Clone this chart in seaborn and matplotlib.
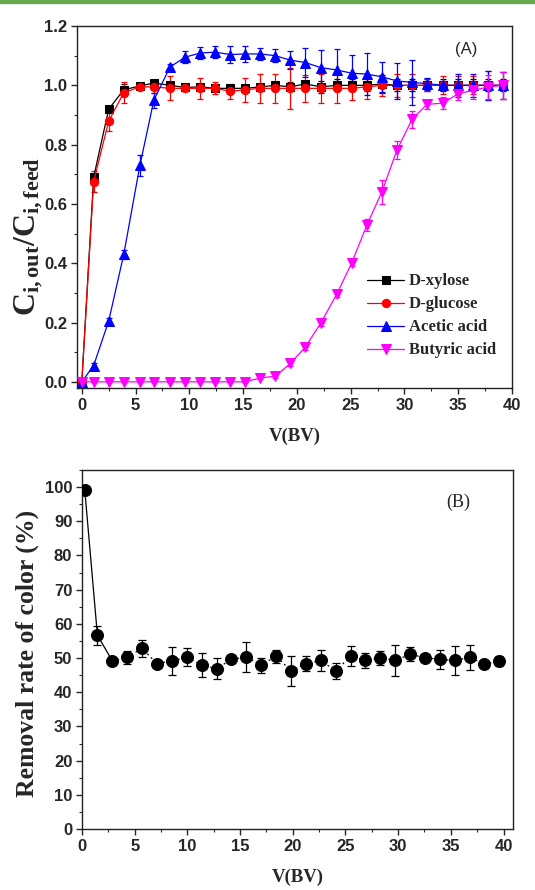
import matplotlib
matplotlib.use('Agg')
import matplotlib.pyplot as plt
import seaborn as sns
import pandas as pd
import numpy as np
from matplotlib.ticker import MultipleLocator

sns.set_style('ticks')
plt.rcParams['font.family'] = ['Liberation Sans', 'DejaVu Sans']
plt.rcParams['mathtext.fontset'] = 'custom'
plt.rcParams['mathtext.rm'] = 'Liberation Serif'
plt.rcParams['mathtext.bf'] = 'Liberation Serif:bold'
plt.rcParams['mathtext.it'] = 'Liberation Serif:italic'

# (A) breakthrough curves
bv = [0, 1.1, 2.5, 3.9, 5.4, 6.7, 8.2, 9.6, 11.0, 12.4, 13.8, 15.2, 16.6, 18.0, 19.4,
      20.8, 22.2, 23.7, 25.1, 26.5, 27.9, 29.3, 30.7, 32.1, 33.6, 35.0, 36.4, 37.8, 39.2]

xylose = [0, 0.69, 0.92, 0.985, 0.998, 1.008, 1.0, 0.993, 0.995, 0.99, 0.99, 0.99, 0.995, 1.0, 0.995,
          1.005, 0.995, 1.0, 1.0, 1.0, 1.005, 1.0, 1.0, 1.0, 1.0, 1.0, 1.0, 1.0, 1.0]
xylose_err = [0, 0.01, 0.01, 0.02, 0.01, 0.01, 0.01, 0.01, 0.01, 0.01, 0.01, 0.01, 0.01, 0.01, 0.015,
              0.01, 0.02, 0.02, 0.02, 0.02, 0.03, 0.02, 0.02, 0.02, 0.02, 0.02, 0.02, 0.02, 0.02]

glucose = [0, 0.675, 0.88, 0.975, 0.995, 0.995, 0.99, 0.99, 0.99, 0.99, 0.98, 0.985, 0.99, 0.99, 0.99,
           0.99, 0.99, 0.99, 0.99, 0.995, 1.0, 1.0, 1.0, 1.0, 1.0, 1.0, 1.0, 1.0, 1.0]
glucose_err = [0, 0.035, 0.035, 0.035, 0.01, 0.02, 0.04, 0.01, 0.035, 0.02, 0.025, 0.04, 0.05, 0.05, 0.07,
               0.045, 0.05, 0.05, 0.04, 0.04, 0.035, 0.04, 0.04, 0.02, 0.03, 0.03, 0.03, 0.05, 0.045]

acetic = [0, 0.055, 0.205, 0.43, 0.73, 0.95, 1.062, 1.095, 1.109, 1.112, 1.104, 1.106, 1.106, 1.1, 1.085,
          1.077, 1.06, 1.052, 1.041, 1.038, 1.029, 1.015, 1.01, 1.006, 1.0, 1.0, 1.0, 1.0, 1.0]
acetic_err = [0, 0.01, 0.01, 0.015, 0.035, 0.025, 0.01, 0.02, 0.02, 0.02, 0.028, 0.028, 0.02, 0.022, 0.03,
              0.05, 0.06, 0.07, 0.06, 0.07, 0.05, 0.06, 0.075, 0.02, 0.015, 0.04, 0.04, 0.05, 0.045]

butyric = [0, 0, 0, 0, 0, 0, 0, 0, 0, 0, 0, 0, 0.013, 0.019, 0.062,
           0.118, 0.197, 0.295, 0.401, 0.528, 0.64, 0.781, 0.885, 0.936, 0.94, 0.972, 0.983, 0.995, 1.0]
butyric_err = [0, 0, 0, 0, 0, 0, 0, 0, 0, 0, 0, 0, 0.005, 0.005, 0.008,
               0.01, 0.01, 0.01, 0.01, 0.02, 0.04, 0.03, 0.03, 0.015, 0.02, 0.02, 0.03, 0.04, 0.045]

# (B) colour removal
bv_color = [0.26, 1.46, 2.89, 4.28, 5.71, 7.1, 8.53, 9.95, 11.35, 12.78, 14.17, 15.59, 17.0, 18.41, 19.84,
            21.24, 22.66, 24.09, 25.48, 26.9, 28.3, 29.73, 31.15, 32.55, 33.97, 35.4, 36.79, 38.18, 39.6]
removal = [99.2, 56.7, 49.1, 50.3, 52.8, 48.4, 49.1, 50.3, 47.9, 46.9, 49.6, 50.3, 47.9, 50.6, 46.2,
           48.4, 49.3, 46.2, 50.6, 49.3, 50.1, 49.3, 51.1, 50.1, 49.6, 49.3, 50.2, 48.2, 49.2]
removal_err = [0.5, 2.8, 0.5, 1.9, 2.5, 0.5, 4.1, 2.7, 3.5, 3.0, 0.5, 4.4, 2.2, 1.9, 4.4,
               2.3, 3.1, 2.4, 2.8, 2.2, 2.0, 4.4, 2.0, 0.5, 2.8, 4.2, 3.7, 1.0, 1.5]

series = [
    ('D-xylose', xylose, xylose_err, 'black', 's', 5.3),
    ('D-glucose', glucose, glucose_err, 'red', 'o', 6.0),
    ('Acetic acid', acetic, acetic_err, 'blue', '^', 6.8),
    ('Butyric acid', butyric, butyric_err, 'magenta', 'v', 6.8),
]

serif_bold = {'family': 'Liberation Serif', 'weight': 'bold'}

fig = plt.figure(figsize=(5.35, 8.9), dpi=100)
fig.patches.append(plt.Rectangle((0, 1 - 2.5 / 890), 1, 2.5 / 890, transform=fig.transFigure,
                                 color='#6aa84f', zorder=10))

ax1 = fig.add_axes([0.1439, 0.564, 0.813, 0.4067])
ax2 = fig.add_axes([0.1533, 0.0685, 0.8056, 0.4034])

df = pd.DataFrame({'bv': bv})
for name, vals, errs, color, marker, ms in series:
    df[name] = vals
    ax1.errorbar(bv, vals, yerr=errs, fmt='none', ecolor=color, elinewidth=0.9,
                 capsize=2.5, capthick=0.9, zorder=2)
    sns.lineplot(data=df, x='bv', y=name, ax=ax1, color=color, marker=marker,
                 markersize=ms, markeredgecolor=color, linewidth=0.9, label=name, zorder=3)

ax1.set_xlim(-0.45, 40)
ax1.set_ylim(-0.021, 1.2)
ax1.xaxis.set_major_locator(MultipleLocator(5))
ax1.xaxis.set_minor_locator(MultipleLocator(2.5))
ax1.yaxis.set_major_locator(MultipleLocator(0.2))
ax1.yaxis.set_minor_locator(MultipleLocator(0.1))
ax1.yaxis.set_major_formatter(plt.FormatStrFormatter('%.1f'))
ax1.set_xlabel('V(BV)', fontdict=serif_bold, fontsize=13.5, labelpad=11)
ax1.set_ylabel(r'$\mathbf{C_{i,out}/C_{i,feed}}$', fontsize=23, va='center')
ax1.yaxis.set_label_coords(-0.112, 0.42)
ax1.text(0.895, 0.935, '(A)', transform=ax1.transAxes, fontsize=12, ha='center', va='center')
leg = ax1.legend(loc='upper left', bbox_to_anchor=(0.652, 0.335), frameon=False,
                 prop={'family': 'Liberation Serif', 'weight': 'bold', 'size': 12},
                 handlelength=2.2, handletextpad=0.3, labelspacing=0.42, borderaxespad=0)

# (B)
dfc = pd.DataFrame({'bv': bv_color, 'removal': removal})
ax2.errorbar(bv_color, removal, yerr=removal_err, fmt='none', ecolor='black', elinewidth=0.9,
             capsize=2.8, capthick=0.9, zorder=2)
sns.lineplot(data=dfc.iloc[:3], x='bv', y='removal', ax=ax2, color='black', linewidth=0.9, zorder=2)
sns.lineplot(data=dfc.iloc[2:], x='bv', y='removal', ax=ax2, color='black', linewidth=0.9,
             linestyle=(0, (1.5, 2.5)), zorder=2)
sns.scatterplot(data=dfc, x='bv', y='removal', ax=ax2, color='black', s=75, marker='o',
                edgecolor='black', zorder=3)

ax2.set_xlim(0, 40.9)
ax2.set_ylim(0, 105)
ax2.xaxis.set_major_locator(MultipleLocator(5))
ax2.xaxis.set_minor_locator(MultipleLocator(2.5))
ax2.yaxis.set_major_locator(MultipleLocator(10))
ax2.yaxis.set_minor_locator(MultipleLocator(5))
ax2.set_xlabel('V(BV)', fontdict=serif_bold, fontsize=13.5, labelpad=11)
ax2.set_ylabel('Removal rate of color (%)', fontdict=serif_bold, fontsize=18.5, va='center')
ax2.yaxis.set_label_coords(-0.126, 0.49)
ax2.text(0.872, 0.911, '(B)', transform=ax2.transAxes, fontsize=13, family='Liberation Serif',
         ha='center', va='center')

for ax in (ax1, ax2):
    for s in ax.spines.values():
        s.set_visible(True)
        s.set_linewidth(1.0)
        s.set_color('#222222')
    ax.tick_params(which='major', direction='out', length=4, width=1, labelsize=12,
                   top=False, right=False, pad=3)
    ax.tick_params(which='minor', direction='out', length=2.5, width=0.8, top=False, right=False)
    for lab in ax.get_xticklabels() + ax.get_yticklabels():
        lab.set_fontweight('bold')

fig.savefig('out.png', dpi=100)
